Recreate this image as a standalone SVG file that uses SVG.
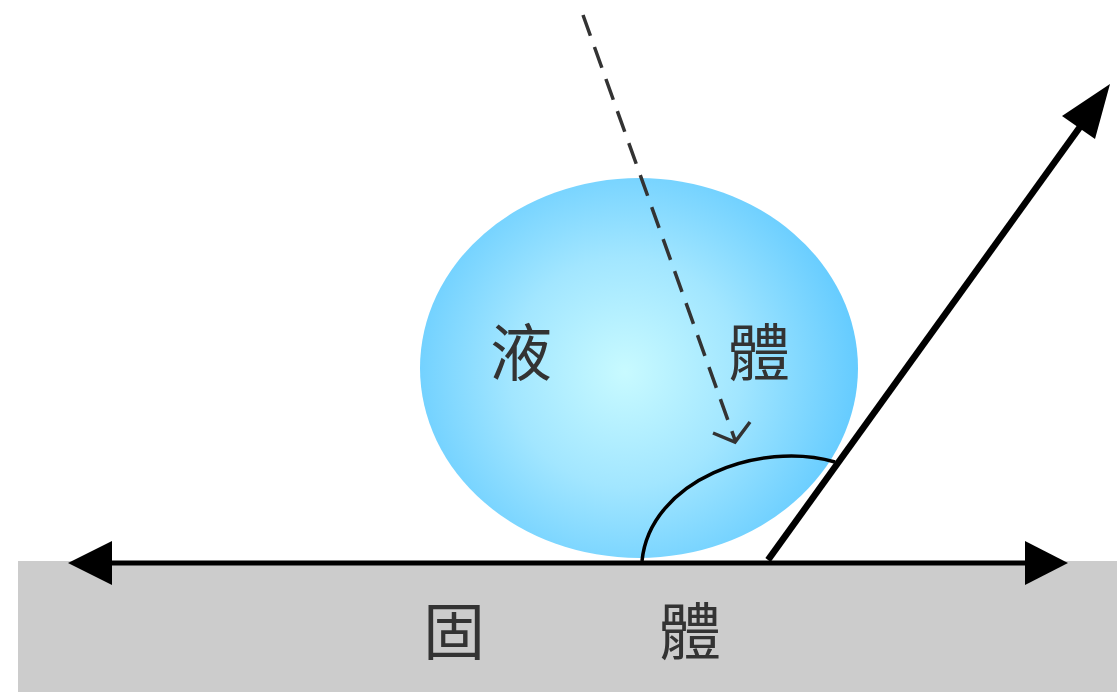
<svg xmlns="http://www.w3.org/2000/svg" width="1117" height="692" viewBox="0 0 1117 692">
  <style>
    .label { font-family: "Liberation Sans", "Noto Sans CJK TC", sans-serif; font-size: 62px; fill: #333333; text-anchor: middle; }
    .solid { stroke: #000000; fill: none; }
  </style>
  <defs>
    <radialGradient id="dropFill" cx="625" cy="372" r="230" gradientUnits="userSpaceOnUse">
      <stop offset="0" stop-color="#c8faff"/>
      <stop offset="0.5" stop-color="#a2e6ff"/>
      <stop offset="1" stop-color="#66ccff"/>
    </radialGradient>
    <marker id="headFilled" viewBox="0 0 10 10" refX="9" refY="5" markerWidth="8" markerHeight="8" markerUnits="userSpaceOnUse" orient="auto">
      <path d="M0,0 L10,5 L0,10 Z" fill="#000"/>
    </marker>
  </defs>

  <rect width="1117" height="692" fill="#ffffff"/>

  <!-- solid surface -->
  <g id="solid">
    <rect x="18" y="561" width="1099" height="131" fill="#cccccc"/>
    <text class="label" x="454" y="655">固</text>
    <text class="label" x="690" y="655">體</text>
  </g>

  <!-- liquid drop -->
  <g id="liquid">
    <ellipse cx="639" cy="368" rx="219" ry="190" fill="url(#dropFill)"/>
    <text class="label" x="521" y="376">液</text>
    <text class="label" x="759" y="376">體</text>
  </g>

  <g id="connectors">
    <!-- incoming dashed ray -->
    <line x1="583" y1="15" x2="735" y2="440" stroke="#333333" stroke-width="3.5" stroke-dasharray="22 12"/>
    <polyline points="713,433 735,442 750,422" fill="none" stroke="#333333" stroke-width="3.5"/>

    <!-- contact angle arc -->
    <path d="M642,561 C650,480 760,440 835,462" class="solid" stroke="#222222" stroke-width="3.5"/>

    <!-- baseline double arrow -->
    <line x1="110" y1="563" x2="1030" y2="563" class="solid" stroke-width="5"/>
    <polygon points="68,563 112,541 112,585" fill="#000"/>
    <polygon points="1068,563 1025,541 1025,585" fill="#000"/>

    <!-- tangent arrow -->
    <line x1="768" y1="560" x2="1085" y2="120" class="solid" stroke-width="6.5"/>
    <polygon points="1110,84 1062,116 1095,139" fill="#000"/>
  </g>
</svg>
